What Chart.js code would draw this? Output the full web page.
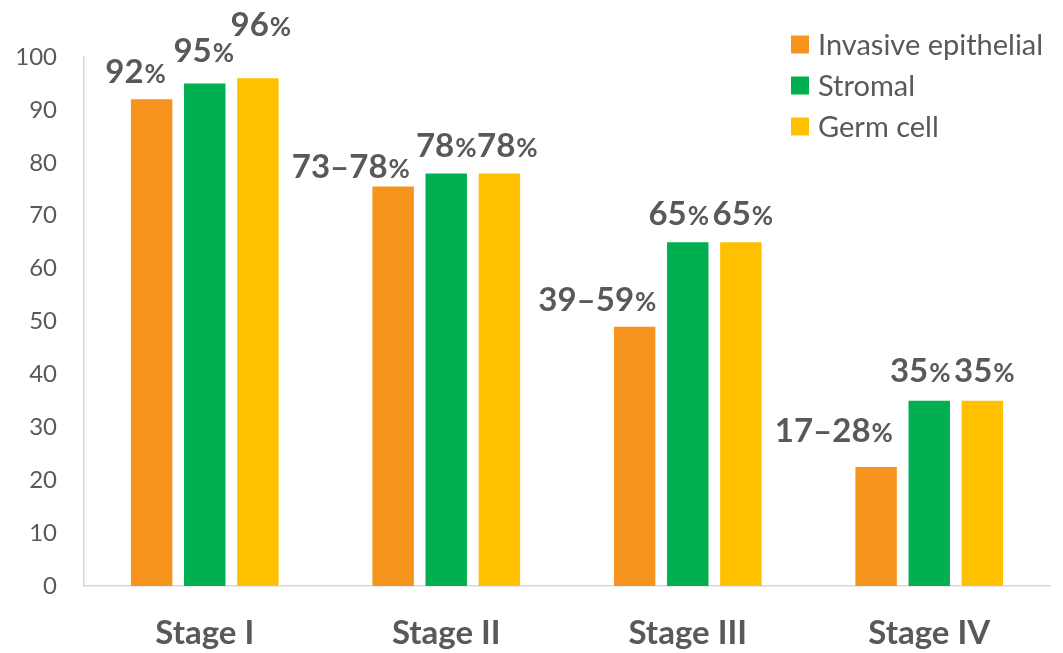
<!doctype html>
<html lang="en">
  <head>
    <meta charset="utf-8">
    <title>Survival by stage</title>
    <script src="https://cdn.jsdelivr.net/npm/chart.js@4"></script>
    <style>
      html, body { margin: 0; padding: 0; background: #fff; }
      #wrap { width: 1063px; height: 653px; }
    </style>
  </head>
  <body>
    <div id="wrap"><canvas id="chart"></canvas></div>
    <script>
      // chart data
      const stages = ["Stage I", "Stage II", "Stage III", "Stage IV"];
      const seriesNames = ["Invasive epithelial", "Stromal", "Germ cell"];
      const epithelial = [92, 75.5, 49, 22.5];
      const stromal = [95, 78, 65, 35];
      const germCell = [96, 78, 65, 35];
      const epithelialLabels = ["92%", "73–78%", "39–59%", "17–28%"];
      const stromalLabels = ["95%", "78%", "65%", "35%"];
      const germCellLabels = ["96%", "78%", "65%", "35%"];

      const grey = "#595959";
      const font = "Lato";

      // hand placed label offsets, as in the original slide: [dx from bar centre, gap above bar]
      // align "r" = right edge of the text sits at bar right + dx
      const labelPos = [
        [[-16, 16, "c"], [-4, 9, "r"], [1, 16, "r"], [-4, 25, "r"]],
        [[-1, 21, "c"], [0, 16, "c"], [-9, 17, "c"], [-9, 19, "c"]],
        [[3, 42, "c"], [8, 16, "c"], [2, 17, "c"], [2, 19, "c"]]
      ];

      const valueLabels = {
        id: "valueLabels",
        afterDatasetsDraw(chart) {
          const ctx = chart.ctx;
          const all = [epithelialLabels, stromalLabels, germCellLabels];
          ctx.save();
          ctx.fillStyle = grey;
          ctx.textBaseline = "alphabetic";
          ctx.textAlign = "left";
          chart.data.datasets.forEach((ds, di) => {
            chart.getDatasetMeta(di).data.forEach((bar, i) => {
              const txt = all[di][i];
              const num = txt.replace("%", "");
              ctx.font = "bold 33px " + font;
              const w1 = ctx.measureText(num).width;
              ctx.font = "bold 26px " + font;
              const w2 = ctx.measureText("%").width + 1;
              const w = w1 + w2;
              const p = labelPos[di][i];
              let x0;
              if (p[2] === "r") {
                x0 = bar.x + bar.width / 2 + p[0] - w;
              } else {
                x0 = bar.x + p[0] - w / 2;
              }
              const y = bar.y - p[1];
              ctx.font = "bold 33px " + font;
              ctx.fillText(num, x0, y);
              ctx.font = "bold 26px " + font;
              ctx.fillText("%", x0 + w1 + 1, y);
            });
          });
          ctx.restore();
        }
      };

      const sideLegend = {
        id: "sideLegend",
        afterDraw(chart) {
          const ctx = chart.ctx;
          ctx.save();
          ctx.font = "29px " + font;
          ctx.textBaseline = "middle";
          ctx.textAlign = "left";
          chart.data.datasets.forEach((ds, i) => {
            const cy = 44.5 + i * 41;
            ctx.fillStyle = ds.backgroundColor;
            ctx.fillRect(791, cy - 9, 18, 18);
            ctx.fillStyle = grey;
            ctx.fillText(ds.label, 818, cy + 1);
          });
          ctx.restore();
        }
      };

      new Chart(document.getElementById("chart"), {
        type: "bar",
        data: {
          labels: stages,
          datasets: [
            { label: seriesNames[0], data: epithelial, backgroundColor: "#F7941D" },
            { label: seriesNames[1], data: stromal, backgroundColor: "#00B050" },
            { label: seriesNames[2], data: germCell, backgroundColor: "#FFC000" }
          ]
        },
        options: {
          responsive: true,
          maintainAspectRatio: false,
          animation: false,
          datasets: { bar: { categoryPercentage: 0.66, barPercentage: 0.78 } },
          layout: { padding: { top: 57, right: 13, left: 0, bottom: 0 } },
          plugins: { legend: { display: false }, tooltip: { enabled: false } },
          scales: {
            x: {
              grid: { display: false, drawTicks: false },
              border: { color: "#d9d9d9", width: 1.5 },
              ticks: { color: grey, font: { family: font, size: 33, weight: "bold" }, padding: 28 },
              afterFit(scale) { scale.height = 67; }
            },
            y: {
              min: 0,
              max: 100,
              grid: { display: false, drawTicks: false },
              border: { color: "#d9d9d9", width: 1.5 },
              ticks: { stepSize: 10, color: grey, font: { family: font, size: 24 }, padding: 27 },
              afterFit(scale) { scale.width = 84; }
            }
          }
        },
        plugins: [valueLabels, sideLegend]
      });
    </script>
  </body>
</html>
